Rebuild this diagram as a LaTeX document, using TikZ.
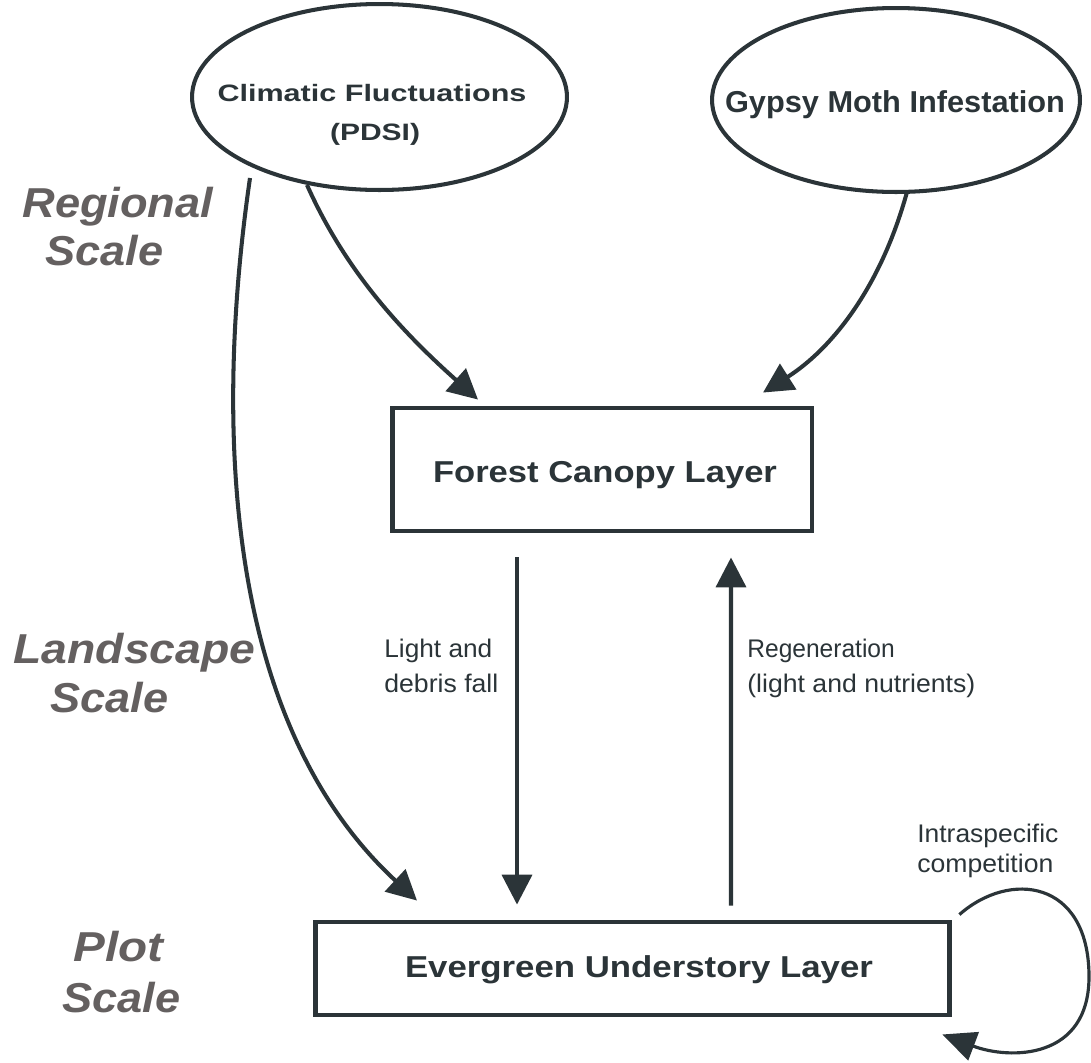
\documentclass[tikz,border=0pt]{standalone}
\usepackage{fontspec}
\setmainfont{Liberation Sans}
\usetikzlibrary{shapes.geometric,arrows.meta}
\definecolor{ink}{RGB}{43,52,56}
\definecolor{scalegray}{RGB}{100,96,96}
\newcommand{\fitw}[2]{\resizebox{#1}{\height}{#2}}
\begin{document}
\begin{tikzpicture}[x=0.02cm,y=-0.02cm,
  txt/.style={inner sep=0, text=ink},
  nodefont/.style={font=\fontsize{17.2}{20}\selectfont\bfseries},
  smallfont/.style={font=\fontsize{14.5}{17}\selectfont},
  scalefont/.style={inner sep=0, text=scalegray, font=\fontsize{23.8}{28}\selectfont\bfseries\itshape},
  oval/.style={ellipse, draw=ink, line width=2.3pt, inner sep=0},
  layerbox/.style={rectangle, draw=ink, line width=2.8pt, inner sep=0, text=ink},
  arr/.style={draw=ink, line width=2.3pt, -{Triangle[length=17pt,width=17pt]}},
  thinarr/.style={draw=ink, line width=1.8pt, -{Triangle[length=19pt,width=17pt]}}]
\useasboundingbox (0,0) rectangle (1091,1062);

% ellipses
\node[oval, minimum width=7.5cm, minimum height=3.72cm] (cf) at (379.5,97) {};
\node[oval, minimum width=7.36cm, minimum height=3.68cm] (gm) at (896,100) {};
\node[txt, anchor=base, font=\fontsize{13.5}{16}\selectfont\bfseries] (cft1) at (372,101) {\fitw{6.18cm}{Climatic Fluctuations}};
\node[txt, anchor=base, font=\fontsize{13.5}{16}\selectfont\bfseries] (cft2) at (375,140) {\fitw{1.80cm}{(PDSI)}};
\node[txt, anchor=base, nodefont] (gmt) at (895,112) {\fitw{6.80cm}{Gypsy Moth Infestation}};

% boxes
\node[layerbox, minimum width=8.4cm, minimum height=2.46cm] (fc) at (602,469.5) {};
\node[layerbox, minimum width=12.7cm, minimum height=1.86cm] (eu) at (632.5,968.5) {};
\node[txt, anchor=base, nodefont] (fct) at (605,482) {\fitw{6.88cm}{Forest Canopy Layer}};
\node[txt, anchor=base, nodefont] (eut) at (639,977) {\fitw{9.36cm}{Evergreen Understory Layer}};

% arrow labels
\node[txt, anchor=base west, smallfont] (l1) at (384,657) {\fitw{2.16cm}{Light and}};
\node[txt, anchor=base west, smallfont] (l2) at (384,692) {\fitw{2.28cm}{debris fall}};
\node[txt, anchor=base west, smallfont] (r1) at (747,657) {\fitw{2.95cm}{Regeneration}};
\node[txt, anchor=base west, smallfont] (r2) at (747,692) {\fitw{4.56cm}{(light and nutrients)}};
\node[txt, anchor=base west, smallfont] (i1) at (917,842) {\fitw{2.82cm}{Intraspecific}};
\node[txt, anchor=base west, smallfont] (i2) at (917,872) {\fitw{2.72cm}{competition}};

% scale labels
\node[scalefont, anchor=base west] (s1a) at (22,217) {\fitw{3.82cm}{Regional}};
\node[scalefont, anchor=base west] (s1b) at (45,265) {\fitw{2.36cm}{Scale}};
\node[scalefont, anchor=base west] (s2a) at (13,663) {\fitw{4.84cm}{Landscape}};
\node[scalefont, anchor=base west] (s2b) at (50,712) {\fitw{2.36cm}{Scale}};
\node[scalefont, anchor=base west] (s3a) at (73,961) {\fitw{1.80cm}{Plot}};
\node[scalefont, anchor=base west] (s3b) at (62,1012) {\fitw{2.36cm}{Scale}};

% connectors
\draw[arr] ([shift={(-72.5,88)}]cf.center) .. controls (345,270) and (400,330) .. ([shift={(-124,-6)}]fc.north);
\draw[arr] ([shift={(11,92)}]gm.center) .. controls (880,290) and (830,350) .. ([shift={(161,-13)}]fc.north);
\draw[arr] ([shift={(-129.5,81)}]cf.center) .. controls (225,350) and (200,700) .. ([shift={(-215.5,-19)}]eu.north);
\draw[arr] ([shift={(-85,24)}]fc.south) -- ([shift={(-115.5,-15)}]eu.north);
\draw[arr] ([shift={(98.5,-14)}]eu.north) -- ([shift={(129,24)}]fc.south);
\draw[thinarr] ([shift={(7,-5)}]eu.north east) .. controls (1010,870) and (1088,880) .. (1089,975)
  .. controls (1090,1060) and (1010,1060) .. ([shift={(-10,17)}]eu.south east);
\end{tikzpicture}
\end{document}
